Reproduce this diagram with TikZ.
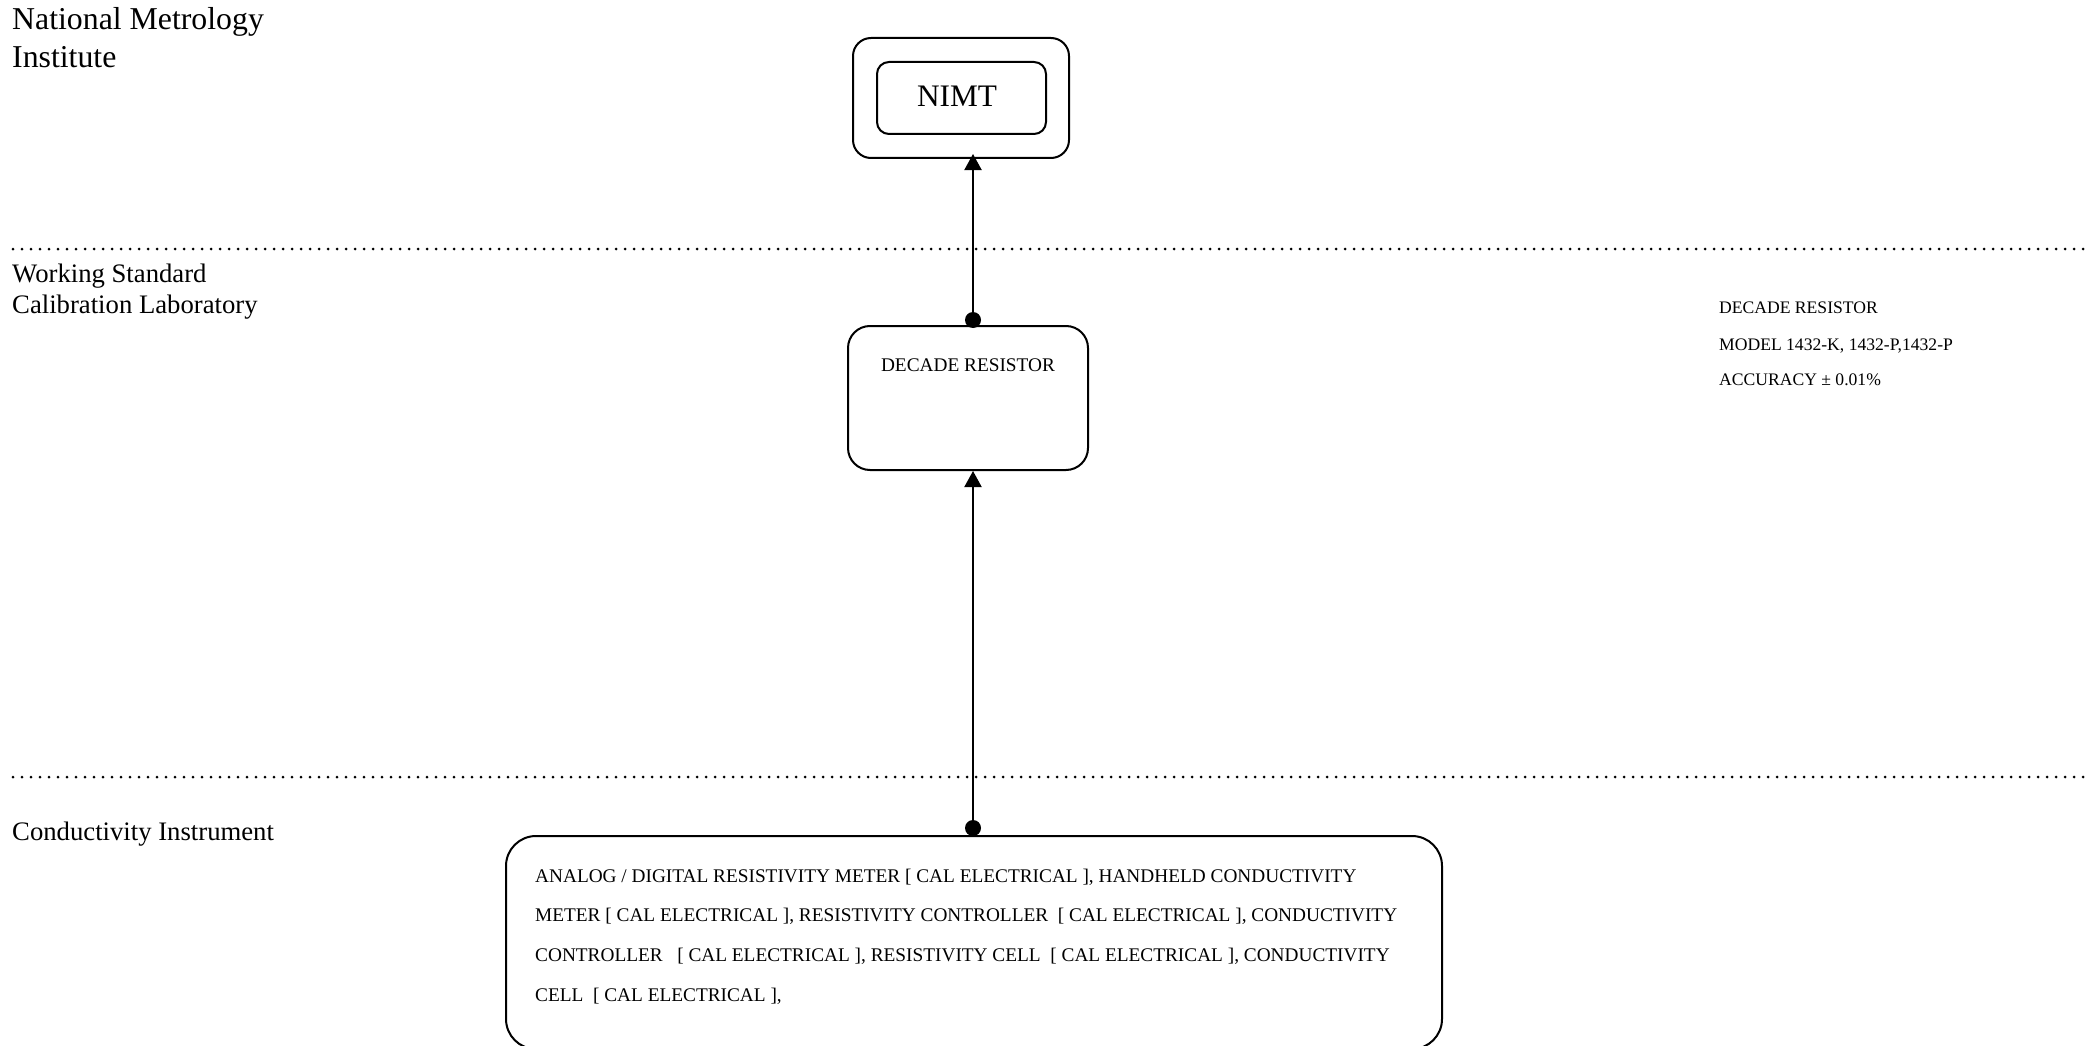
\documentclass[tikz,border=0pt]{standalone}
\usepackage{fontspec}
\setmainfont{Liberation Serif}
\usetikzlibrary{arrows.meta}
\tikzset{
  rbox/.style={draw=black, line width=2pt, rounded corners=#1, inner sep=0pt},
  lbl/.style={anchor=base west, inner sep=0pt, font=\fontsize{26.7}{30}\selectfont},
  biglbl/.style={anchor=base west, inner sep=0pt, font=\fontsize{31.8}{37}\selectfont},
  sidetxt/.style={anchor=base west, inner sep=0pt, font=\fontsize{17.6}{20}\selectfont},
  boxtxt/.style={anchor=base west, inner sep=0pt, font=\fontsize{19.3}{22}\selectfont},
  sep/.style={line width=3pt, line cap=round, dash pattern=on 0pt off 9pt},
  conn/.style={line width=2pt, -{Triangle[length=16pt,width=17pt]}},
  joint/.style={circle, fill=black, inner sep=0pt, minimum size=16pt},
}
\begin{document}
\begin{tikzpicture}[x=1pt,y=-1pt]
\useasboundingbox (0,0) rectangle (2099,1046);
% separators
\coordinate (s1a) at (13,249); \coordinate (s1b) at (2089,249);
\coordinate (s2a) at (13,777); \coordinate (s2b) at (2089,777);
\draw[sep] (s1a) -- (s1b);
\draw[sep] (s2a) -- (s2b);
% lane labels
\node[biglbl] (nm1) at (12,30) {National Metrology};
\node[biglbl] (nm2) at (12,68) {Institute};
\node[lbl] (ws1) at (12,282) {Working Standard};
\node[lbl] (ws2) at (12,313) {Calibration Laboratory};
\node[lbl] (ci) at (12,840) {Conductivity Instrument};
% NIMT
\node[rbox=18pt, minimum width=216pt, minimum height=120pt] (nimtO) at (961,98) {};
\node[rbox=12pt, minimum width=169pt, minimum height=72pt] (nimtI) at (961.5,98) {};
\node[anchor=base, inner sep=0pt, font=\fontsize{31.3}{36}\selectfont] (nimt) at (957,107) {NIMT};
% decade resistor
\node[rbox=22pt, minimum width=240pt, minimum height=144pt] (dec) at (968,398) {};
\node[anchor=base, inner sep=0pt, font=\fontsize{19.3}{22}\selectfont] (dect) at (968,371) {DECADE RESISTOR};
% side notes
\node[sidetxt] (n1) at (1719,313) {DECADE RESISTOR};
\node[sidetxt] (n2) at (1719,350) {MODEL 1432-K, 1432-P,1432-P};
\node[sidetxt] (n3) at (1719,385) {ACCURACY ± 0.01\%};
% instrument box
\node[rbox=30pt, minimum width=936pt, minimum height=213pt, anchor=north west] (inst) at (505,835) {};
\node[boxtxt] (t1) at (535,882) {ANALOG / DIGITAL RESISTIVITY METER [ CAL ELECTRICAL ], HANDHELD CONDUCTIVITY};
\node[boxtxt] (t2) at (535,921) {METER [ CAL ELECTRICAL ], RESISTIVITY CONTROLLER\ \ [ CAL ELECTRICAL ], CONDUCTIVITY};
\node[boxtxt] (t3) at (535,961) {CONTROLLER\ \ \ [ CAL ELECTRICAL ], RESISTIVITY CELL\ \ [ CAL ELECTRICAL ], CONDUCTIVITY};
\node[boxtxt] (t4) at (535,1001) {CELL\ \ [ CAL ELECTRICAL ],};
% connectors
\node[joint] (j1) at (973,320) {};
\node[joint] (j2) at (973,828) {};
\draw[conn] (j1.center) -- ([yshift=5pt]j1.center |- nimtO.south);
\draw[conn] (j2.center) -- (j2.center |- dec.south);
\end{tikzpicture}
\end{document}
